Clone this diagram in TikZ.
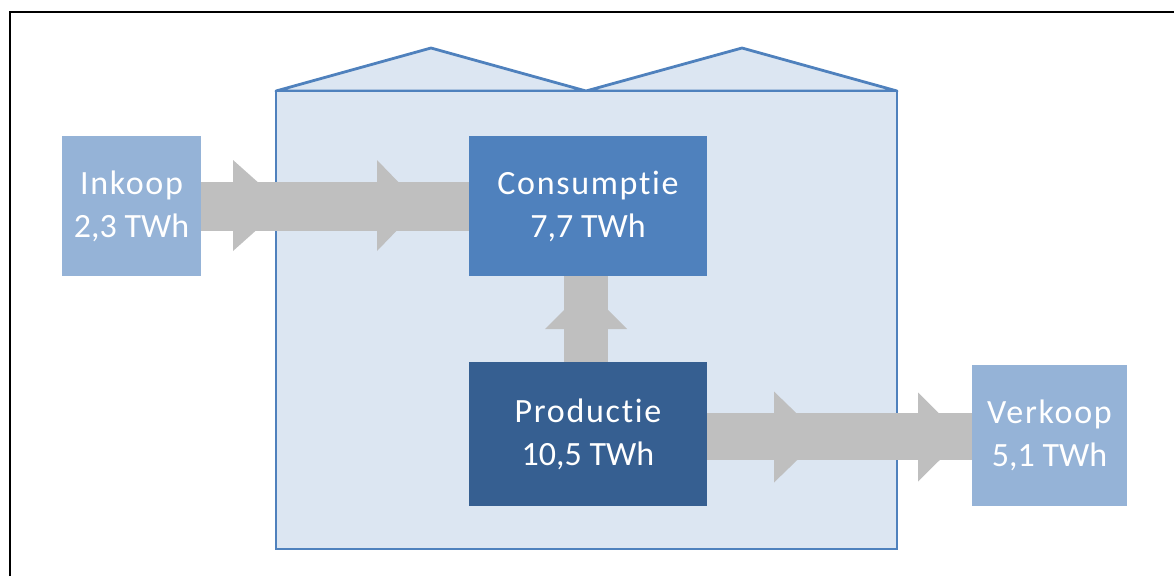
\documentclass[tikz,border=0pt]{standalone}
\usepackage{fontspec}
\setmainfont[Ligatures=NoCommon]{Carlito}
\definecolor{bldfill}{HTML}{DCE6F2}
\definecolor{bldline}{HTML}{4F81BD}
\definecolor{lightbox}{HTML}{95B3D7}
\definecolor{midbox}{HTML}{4F81BD}
\definecolor{darkbox}{HTML}{365F91}
\definecolor{flowgray}{HTML}{BFBFBF}
\newcommand{\spaced}[1]{{\addfontfeature{LetterSpace=5}#1}}
\tikzset{
  blk/.style={rectangle, inner sep=0pt, text=white, align=center,
    font=\fontsize{34}{43}\selectfont},
  flow/.style={fill=flowgray, draw=none}
}
\begin{document}
\begin{tikzpicture}[x=1pt,y=-1pt]
\useasboundingbox (0,0) rectangle (1174,576);
% outer frame (partly visible)
\draw[black, line width=2pt] (10,576) -- (10,12) -- (1174,12);
% building
\filldraw[fill=bldfill, draw=bldline, line width=2.8pt, line join=round]
  (276,91) -- (431,48) -- (586,91) -- (742,48) -- (897,91) -- cycle;
\filldraw[fill=bldfill, draw=bldline, line width=2.8pt]
  (276,91) rectangle (897,549);
% boxes
\node[blk, fill=lightbox, minimum width=139pt, minimum height=140pt] (ink) at (131.5,206) {\spaced{Inkoop}\\2,3 TWh};
\node[blk, fill=midbox, minimum width=238pt, minimum height=140pt] (con) at (588,206) {\spaced{Consumptie}\\7,7 TWh};
\node[blk, fill=darkbox, minimum width=238pt, minimum height=144pt] (pro) at (588,434) {\spaced{Productie}\\10,5 TWh};
\node[blk, fill=lightbox, minimum width=155pt, minimum height=141pt] (ver) at (1049.5,435.5) {\spaced{Verkoop}\\5,1 TWh};
% flow Inkoop -> Consumptie
\coordinate (h1) at (233,205.5);
\coordinate (h2) at (377,205.5);
\fill[flow] (ink.east |- 0,181.5) rectangle (con.west |- 0,230.5);
\fill[flow] ([yshift=45.5pt]h1) -- ([yshift=-45.5pt]h1) -- ([xshift=51pt]h1) -- cycle;
\fill[flow] ([yshift=45.5pt]h2) -- ([yshift=-45.5pt]h2) -- ([xshift=44pt]h2) -- cycle;
% flow Productie -> Consumptie
\coordinate (h3) at (586,329);
\fill[flow] (564,0 |- pro.north) rectangle (608,0 |- con.south);
\fill[flow] ([xshift=-41pt]h3) -- ([xshift=41pt]h3) -- ([yshift=41pt]h3) -- cycle;
% flow Productie -> Verkoop
\coordinate (h4) at (774,437);
\coordinate (h5) at (918,437);
\fill[flow] (pro.east |- 0,413) rectangle (ver.west |- 0,460);
\fill[flow] ([yshift=45.5pt]h4) -- ([yshift=-45.5pt]h4) -- ([xshift=47pt]h4) -- cycle;
\fill[flow] ([yshift=44.5pt]h5) -- ([yshift=-44.5pt]h5) -- ([xshift=45pt]h5) -- cycle;
\end{tikzpicture}
\end{document}
